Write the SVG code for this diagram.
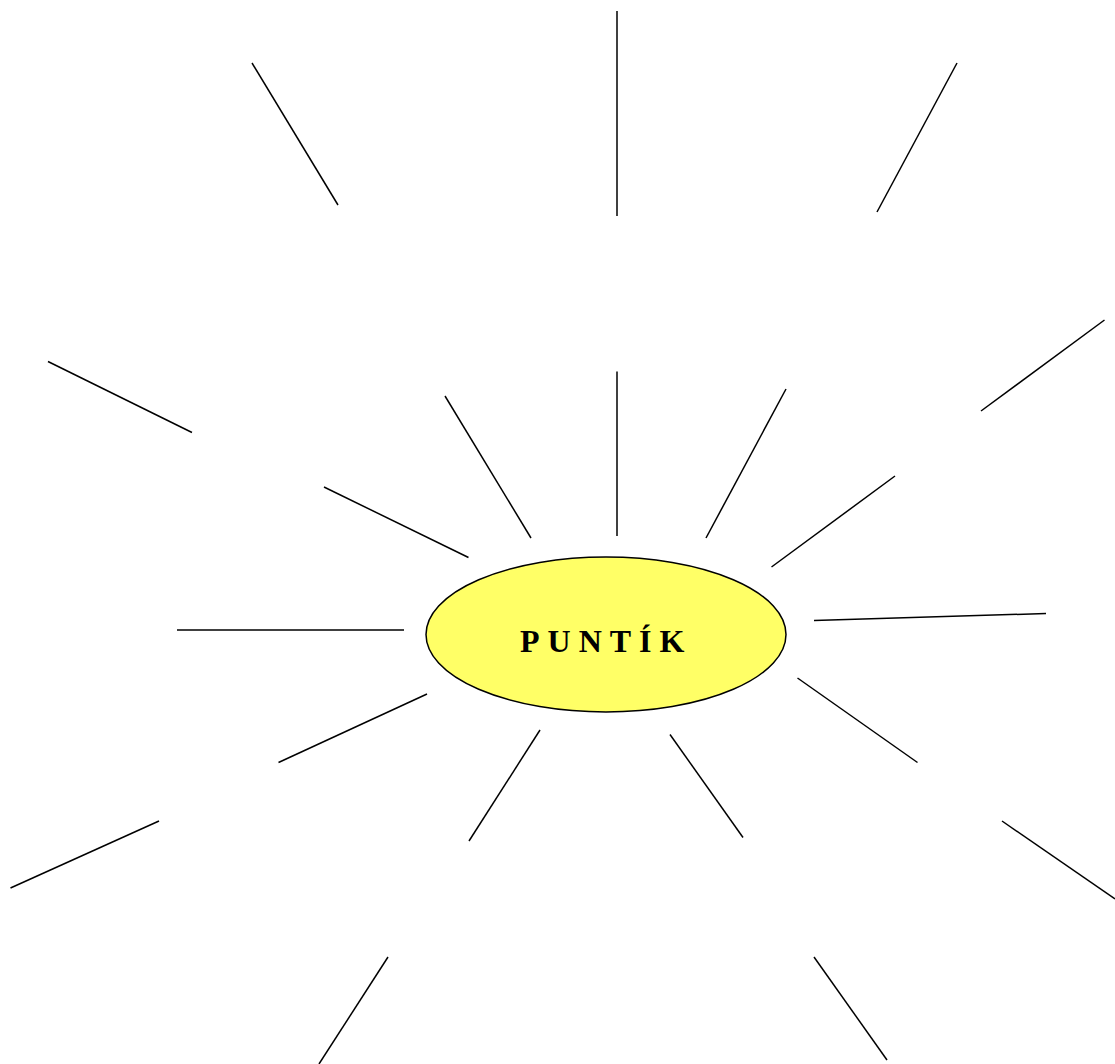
<svg xmlns="http://www.w3.org/2000/svg" width="1115" height="1064" viewBox="0 0 1115 1064">
<style>
.ray{stroke:#000;stroke-width:1.5;fill:none;stroke-linecap:butt}
.sun{fill:#FFFF66;stroke:#000;stroke-width:1.5}
.lbl{font-family:"Liberation Serif","Times New Roman",serif;font-weight:bold;font-size:32px;letter-spacing:8px;fill:#000}
</style>
<rect width="1115" height="1064" fill="#fff"/>
<g id="connectors">
<line class="ray" x1="252" y1="63" x2="338" y2="205"/>
<line class="ray" x1="617" y1="11" x2="617" y2="216"/>
<line class="ray" x1="957" y1="63" x2="877" y2="212"/>
<line class="ray" x1="48" y1="361.5" x2="192" y2="432.5"/>
<line class="ray" x1="1104.5" y1="320" x2="981" y2="411"/>
<line class="ray" x1="445" y1="396" x2="531" y2="538"/>
<line class="ray" x1="617" y1="371.5" x2="617" y2="536"/>
<line class="ray" x1="786" y1="389" x2="706" y2="538"/>
<line class="ray" x1="324" y1="487" x2="468.5" y2="557.5"/>
<line class="ray" x1="895" y1="476" x2="771.5" y2="567"/>
<line class="ray" x1="177" y1="630" x2="404" y2="630"/>
<line class="ray" x1="814" y1="620.5" x2="1046" y2="613.5"/>
<line class="ray" x1="427" y1="694" x2="278.5" y2="762.5"/>
<line class="ray" x1="797.5" y1="678" x2="917.5" y2="762.5"/>
<line class="ray" x1="540" y1="730" x2="469" y2="841"/>
<line class="ray" x1="670" y1="734.5" x2="743" y2="837.5"/>
<line class="ray" x1="159" y1="821" x2="10.5" y2="888"/>
<line class="ray" x1="1002" y1="821" x2="1115" y2="899"/>
<line class="ray" x1="388" y1="957" x2="319" y2="1064"/>
<line class="ray" x1="814" y1="957" x2="887" y2="1060"/>
</g>
<g id="puntik">
<ellipse class="sun" cx="606" cy="634.5" rx="180" ry="77.5"/>
<text class="lbl" x="520" y="651.5">PUNTÍK</text>
</g>
</svg>
